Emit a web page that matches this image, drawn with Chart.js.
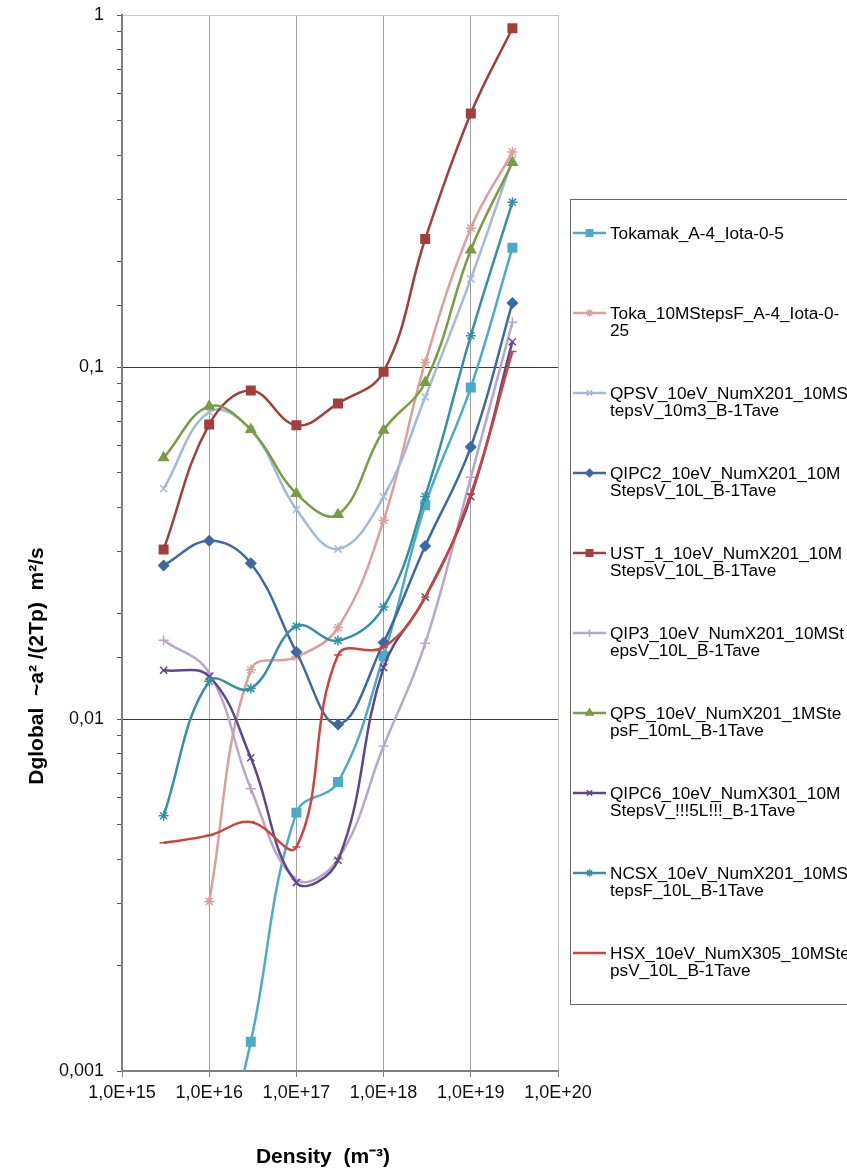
<!DOCTYPE html>
<html>
<head>
<meta charset="utf-8">
<script src="https://cdn.jsdelivr.net/npm/chart.js"></script>
<style>
  html, body { margin: 0; padding: 0; background: #fff; }
  #wrap { width: 847px; height: 1170px; }
</style>
</head>
<body>
<div id="wrap"><canvas id="diffChart" width="847" height="1170"></canvas></div>
<script>
// densities (m^-3) at which every run was done
const densities = [3e15, 1e16, 3e16, 1e17, 3e17, 1e18, 3e18, 1e19, 3e19];

// Dglobal values (m^2/s)
const tokamak = [null, 0.0004, 0.00121, 0.00542, 0.00662, 0.0151, 0.0405, 0.0875, 0.218];
const toka10M = [null, 0.00303, 0.0138, 0.0150, 0.0182, 0.0367, 0.103, 0.248, 0.408];
const qpsv    = [0.0451, 0.0745, 0.0664, 0.0394, 0.0304, 0.0428, 0.0822, 0.178, 0.388];
const qipc2   = [0.0273, 0.0321, 0.0277, 0.0155, 0.00965, 0.0165, 0.031, 0.0593, 0.152];
const ust1    = [0.0303, 0.0687, 0.0857, 0.0683, 0.0788, 0.097, 0.231, 0.525, 0.917];
const qip3    = [0.01675, 0.0135, 0.00634, 0.0035, 0.0040, 0.00838, 0.0164, 0.0486, 0.134];
const qps     = [0.0552, 0.0773, 0.0664, 0.0437, 0.0381, 0.0661, 0.0904, 0.215, 0.381];
const qipc6   = [0.01376, 0.0132, 0.00776, 0.00343, 0.00397, 0.0140, 0.0222, 0.0428, 0.118];
const ncsx    = [0.00531, 0.0128, 0.0122, 0.01835, 0.0167, 0.0208, 0.0429, 0.1227, 0.294];
const hsx     = [0.00445, 0.00467, 0.0051, 0.00433, 0.0152, 0.016, 0.0222, 0.0436, 0.1107];

// series names, split the way the legend wraps them
const seriesNames = [
    ['Tokamak_A-4_Iota-0-5'],
    ['Toka_10MStepsF_A-4_Iota-0-', '25'],
    ['QPSV_10eV_NumX201_10MS', 'tepsV_10m3_B-1Tave'],
    ['QIPC2_10eV_NumX201_10M', 'StepsV_10L_B-1Tave'],
    ['UST_1_10eV_NumX201_10M', 'StepsV_10L_B-1Tave'],
    ['QIP3_10eV_NumX201_10MSt', 'epsV_10L_B-1Tave'],
    ['QPS_10eV_NumX201_1MSte', 'psF_10mL_B-1Tave'],
    ['QIPC6_10eV_NumX301_10M', 'StepsV_!!!5L!!!_B-1Tave'],
    ['NCSX_10eV_NumX201_10MS', 'tepsF_10L_B-1Tave'],
    ['HSX_10eV_NumX305_10MSte', 'psV_10L_B-1Tave']
];
const seriesValues = [tokamak, toka10M, qpsv, qipc2, ust1, qip3, qps, qipc6, ncsx, hsx];
const seriesColors = ['#4BACC6', '#DBA09E', '#A3B9DB', '#3D69A3', '#A23F3C',
                      '#B7A8CB', '#7A9D43', '#5E4889', '#3590A6', '#CC4340'];
const seriesMarkers = ['rect', 'star', 'crossRot', 'rectRot', 'rect',
                       'cross', 'triangle', 'crossRot', 'star', 'line'];
const markerSizes = [6, 5, 5, 5, 6, 5, 5.5, 5, 5, 4];

const FONT = '"Liberation Sans", Arial, sans-serif';

const isDecade = (v) => Math.abs(Math.log10(v) - Math.round(Math.log10(v))) < 1e-6;

const datasets = seriesValues.map((vals, i) => ({
    label: seriesNames[i].join(''),
    data: densities.map((d, j) => ({ x: d, y: vals[j] })),
    borderColor: seriesColors[i],
    backgroundColor: seriesColors[i],
    pointBackgroundColor: seriesColors[i],
    pointBorderColor: seriesColors[i],
    pointStyle: seriesMarkers[i],
    pointRadius: markerSizes[i],
    pointBorderWidth: 1.5,
    borderWidth: 2.5,
    tension: 0.4,
    spanGaps: false,
    order: seriesValues.length - i   // later series on top, like the original
}));

// legend box on the right, with wrapped names
const sideLegend = {
    id: 'sideLegend',
    afterDraw: (chart) => {
        const ctx = chart.ctx;
        ctx.save();
        ctx.strokeStyle = '#666';
        ctx.lineWidth = 1;
        ctx.strokeRect(570.5, 199.5, 320, 805);
        ctx.font = '17.2px ' + FONT;
        ctx.textAlign = 'left';
        ctx.textBaseline = 'middle';
        chart.data.datasets.forEach((ds, i) => {
            const y = 233 + i * 80;
            ctx.strokeStyle = ds.borderColor;
            ctx.lineWidth = 2.5;
            ctx.beginPath();
            ctx.moveTo(573, y);
            ctx.lineTo(606, y);
            ctx.stroke();
            ctx.fillStyle = ds.borderColor;
            ctx.lineWidth = 1.5;
            if (Chart.helpers && Chart.helpers.drawPoint) {
                Chart.helpers.drawPoint(ctx, {
                    pointStyle: ds.pointStyle, rotation: 0,
                    radius: ds.pointRadius * 0.75, borderWidth: 1.5
                }, 589.5, y);
            }
            ctx.fillStyle = '#000';
            seriesNames[i].forEach((line, k) => ctx.fillText(line, 610, y + 1 + k * 17.5));
        });
        ctx.restore();
    }
};

// axis titles (placed like the original, not centred on the axis)
const axisTitles = {
    id: 'axisTitles',
    afterDraw: (chart) => {
        const ctx = chart.ctx;
        ctx.save();
        ctx.fillStyle = '#000';
        ctx.font = 'bold 21px ' + FONT;
        ctx.textAlign = 'center';
        ctx.textBaseline = 'middle';
        ctx.fillText('Density  (m\u207B\u00B3)', 323, 1157);
        ctx.translate(37, 666);
        ctx.rotate(-Math.PI / 2);
        ctx.fillText('Dglobal  ~a\u00B2 /(2Tp)  m\u00B2/s', 0, 0);
        ctx.restore();
    }
};

new Chart(document.getElementById('diffChart').getContext('2d'), {
    type: 'line',
    data: { datasets: datasets },
    options: {
        responsive: false,
        animation: false,
        layout: { padding: { top: 15, right: 289, left: 0, bottom: 0 } },
        elements: { line: { capBezierPoints: false } },
        plugins: {
            legend: { display: false },
            tooltip: { enabled: false }
        },
        scales: {
            x: {
                type: 'logarithmic',
                min: 1e15,
                max: 1e20,
                afterBuildTicks: (scale) => {
                    scale.ticks = scale.ticks.filter(t => isDecade(t.value));
                },
                afterFit: (scale) => { scale.height = 99; },
                border: { color: '#7F7F7F', width: 2 },
                grid: {
                    color: (c) => {
                        const v = c.tick ? c.tick.value : 0;
                        if (Math.round(Math.log10(v)) === 20) return '#C8C8C8';
                        return '#A0A0A0';
                    },
                    lineWidth: 1,
                    tickColor: '#7F7F7F',
                    tickLength: 6
                },
                ticks: {
                    autoSkip: false,
                    maxRotation: 0,
                    padding: 5,
                    color: '#111',
                    font: { family: FONT, size: 18 },
                    callback: (v) => isDecade(v) ? '1,0E+' + Math.round(Math.log10(v)) : ''
                }
            },
            y: {
                type: 'logarithmic',
                min: 0.001,
                max: 1,
                afterFit: (scale) => {
                    scale.width = 122;
                    // the wide label gap shouldn't push the plot down
                    scale.paddingTop = 0;
                    scale.paddingBottom = 0;
                },
                border: { color: '#7F7F7F', width: 2 },
                grid: {
                    color: (c) => {
                        const v = c.tick ? c.tick.value : 0;
                        if (!isDecade(v)) return 'rgba(0,0,0,0)';
                        const e = Math.round(Math.log10(v));
                        if (e === 0) return '#C8C8C8';
                        if (e === -3) return 'rgba(0,0,0,0)';
                        return '#3A3A3A';
                    },
                    lineWidth: 1,
                    tickColor: '#555',
                    tickLength: 5
                },
                ticks: {
                    autoSkip: false,
                    padding: 13,
                    color: '#111',
                    font: { family: FONT, size: 18 },
                    callback: (v) => {
                        if (!isDecade(v)) return '';
                        const e = Math.round(Math.log10(v));
                        return e === 0 ? '1' : '0,' + '0'.repeat(-e - 1) + '1';
                    }
                }
            }
        }
    },
    plugins: [sideLegend, axisTitles]
});
</script>
</body>
</html>
